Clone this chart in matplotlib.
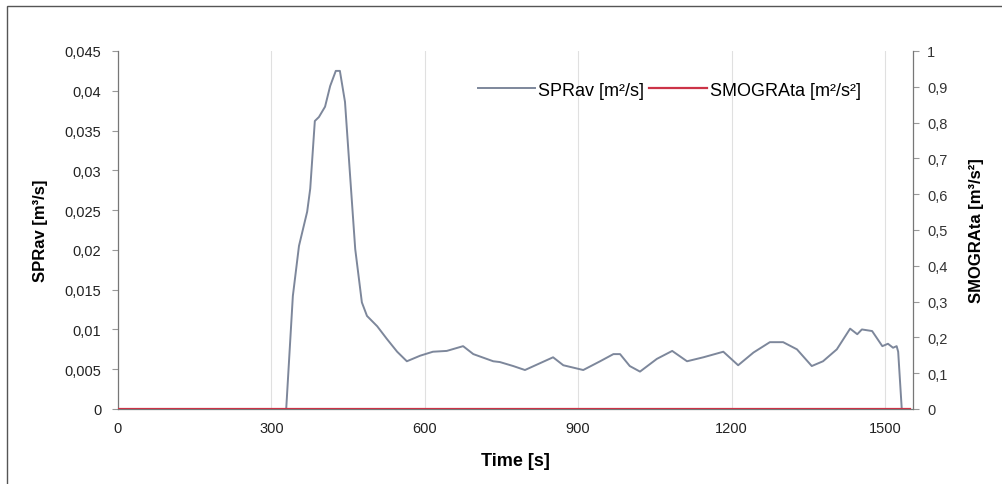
import numpy as np
import matplotlib.pyplot as plt
from matplotlib.ticker import FuncFormatter, MultipleLocator
from matplotlib.patches import Rectangle

plt.rcParams['font.family'] = ['Liberation Sans', 'DejaVu Sans']

# SPRav (time in s, value in m2/s)
time_s = [0, 329, 342, 354, 370, 376, 385, 393, 405, 415, 426, 434, 444, 454,
          464, 477, 487, 507, 526, 546, 565, 591, 616, 643, 675, 695, 734, 747,
          773, 796, 851, 871, 910, 943, 969, 982, 1001, 1021, 1054, 1084, 1113,
          1145, 1184, 1213, 1243, 1275, 1301, 1328, 1357, 1379, 1406, 1432,
          1446, 1455, 1475, 1495, 1506, 1516, 1523, 1526, 1533]
sprav = [0, 0, 0.0142, 0.0205, 0.0248, 0.0277, 0.0362, 0.0367, 0.038, 0.0406,
         0.0425, 0.0425, 0.0386, 0.0293, 0.0201, 0.0134, 0.0117, 0.0104,
         0.0088, 0.0072, 0.0060, 0.0067, 0.0072, 0.0073, 0.0079, 0.0069,
         0.0060, 0.0059, 0.0054, 0.0049, 0.0065, 0.0055, 0.0049, 0.0060,
         0.0069, 0.0069, 0.0054, 0.0047, 0.0063, 0.0073, 0.0060, 0.0065,
         0.0072, 0.0055, 0.0071, 0.0084, 0.0084, 0.0075, 0.0054, 0.0060,
         0.0075, 0.0101, 0.0094, 0.0100, 0.0098, 0.0079, 0.0082, 0.0077,
         0.0079, 0.0072, 0]

# SMOGRAta stays at zero over the whole run
smogra_time = [0, 1550]
smogra = [0, 0]

x_ticks = [0, 300, 600, 900, 1200, 1500]

def comma(v, pos):
    return ('%g' % round(v, 4)).replace('.', ',')

fig = plt.figure(figsize=(10.03, 4.85), dpi=100)
fig.patch.set_facecolor('white')
fig.patches.append(Rectangle((7 / 1003, -0.1), 1.2, 1 - 7 / 485 + 0.1,
                             transform=fig.transFigure, fill=False,
                             edgecolor='#555555', linewidth=1.0))

ax = fig.add_axes([118 / 1003, 1 - 410 / 485, (913 - 118) / 1003, (410 - 52) / 485])
ax2 = ax.twinx()

l1, = ax.plot(time_s, sprav, color='#7d879b', linewidth=1.4, label='SPRav [m²/s]')
l2, = ax2.plot(smogra_time, smogra, color='#cc3347', linewidth=1.6, label='SMOGRAta [m²/s²]')

ax.set_xlim(0, 1555)
ax.set_ylim(0, 0.045)
ax2.set_ylim(0, 1)
ax.set_xticks(x_ticks)
ax.yaxis.set_major_locator(MultipleLocator(0.005))
ax2.yaxis.set_major_locator(MultipleLocator(0.1))
ax.yaxis.set_major_formatter(FuncFormatter(comma))
ax2.yaxis.set_major_formatter(FuncFormatter(comma))

ax.grid(axis='x', color='#e0e0e0', linewidth=0.8)
ax.set_axisbelow(True)

for a in (ax, ax2):
    a.spines['top'].set_visible(False)
    for s in a.spines.values():
        s.set_color('#777777')
        s.set_linewidth(0.9)
ax.spines['right'].set_visible(False)
ax2.spines['left'].set_visible(False)
ax2.spines['bottom'].set_visible(False)

ax.tick_params(axis='y', direction='out', length=4, color='#999999',
               labelsize=10.5, labelcolor='#222222', pad=8)
ax.tick_params(axis='x', length=0, labelsize=10.5, labelcolor='#222222', pad=9)
ax2.tick_params(axis='y', direction='out', length=4, color='#999999',
                labelsize=10.5, labelcolor='#333333', pad=6)

ax.set_xlabel('Time [s]', fontsize=13, fontweight='bold', labelpad=12)
ax.set_ylabel('SPRav [m³/s]', fontsize=12, fontweight='bold', labelpad=12)
ax2.set_ylabel('SMOGRAta [m³/s²]', fontsize=12, fontweight='bold', labelpad=16)

ax.legend([l1, l2], ['SPRav [m²/s]', 'SMOGRAta [m²/s²]'], loc='upper right',
          bbox_to_anchor=(0.955, 0.96), ncol=2, frameon=False, fontsize=13,
          handlelength=3.2, columnspacing=0.3, handletextpad=0.15)

fig.savefig('out.png', dpi=100)
